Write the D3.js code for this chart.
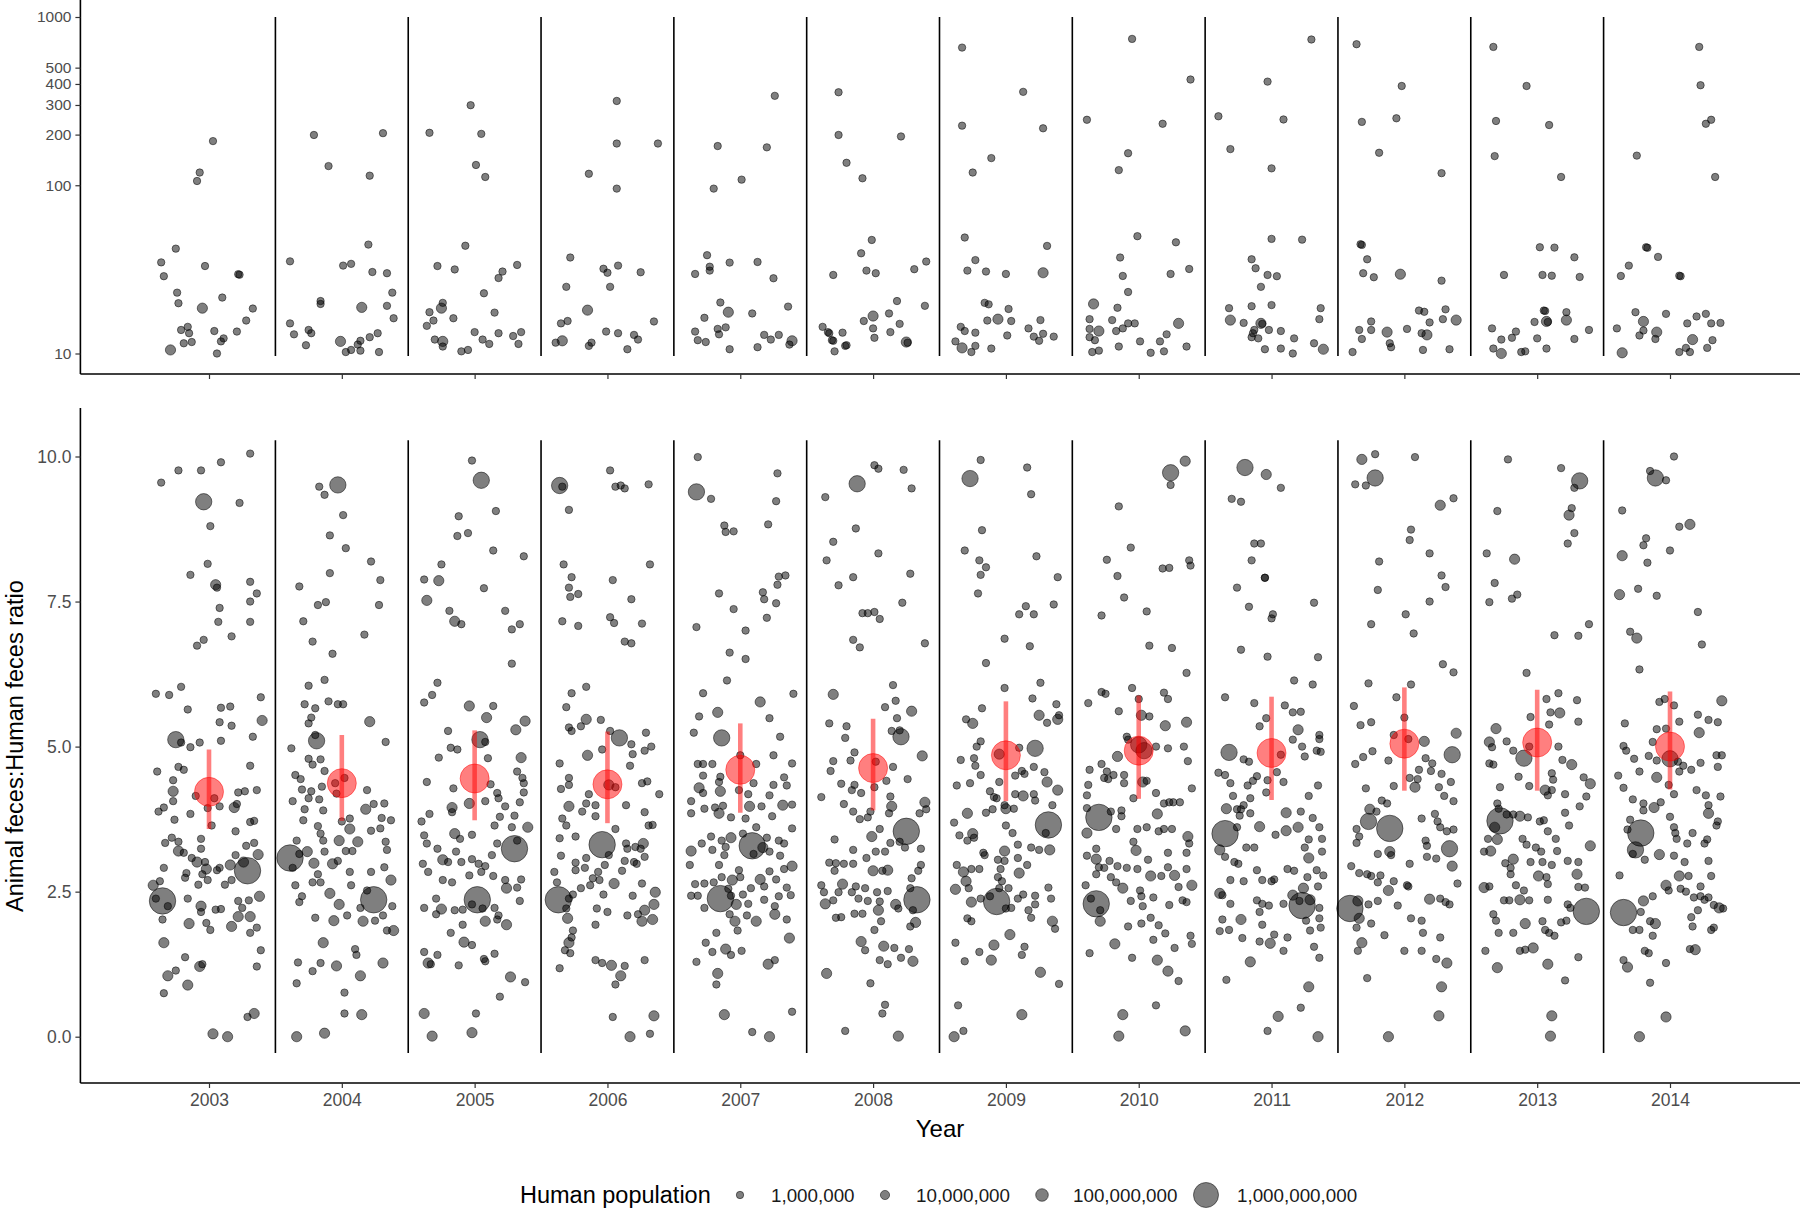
<!DOCTYPE html>
<html><head><meta charset="utf-8">
<script src="https://cdn.jsdelivr.net/npm/d3@7/dist/d3.min.js"></script>
<style>
body{margin:0;background:#fff}
svg{display:block}
text{font-family:"Liberation Sans",Arial,Helvetica,sans-serif}
</style>
</head><body>
<svg id="chart" width="1800" height="1210"></svg>
<script>
// ---------- DATA ----------
const S = 1, M = 20, L = 200, X = 1300; // human population, millions
const years = [2003,2004,2005,2006,2007,2008,2009,2010,2011,2012,2013,2014];
const meanRatio = [4.22,4.37,4.45,4.35,4.6,4.63,4.85,4.93,4.89,5.05,5.07,5.0];
const ciLow  = [3.58,3.72,3.73,3.68,3.86,3.9,4.06,4.1,4.08,4.24,4.24,4.26];
const ciHigh = [4.95,5.2,5.28,5.26,5.4,5.48,5.78,5.88,5.86,6.02,5.98,5.95];
const topTicks = [10,100,200,300,400,500,1000];
const bottomTicks = [0,2.5,5,7.5,10];
const legendPops = [1,10,100,1000];
const legendLabels = ["1,000,000","10,000,000","100,000,000","1,000,000,000"];

// [jitter offset from year, ratio, population (millions)]
const low2003 = [[.31,10.05,S],[-.36,9.55,S],[-.23,9.76,S],[-.06,9.76,S],[.09,9.9,S],[-.04,9.22,L],[.23,9.2,S],[.01,8.8,S],[-.01,8.15,S],[-.14,7.96,S],[.05,7.79,M],[.06,7.74,S],[.31,7.84,S],[.36,7.64,S],[.31,7.5,S],[.08,7.39,S],[.07,7.15,S],[.31,7.15,S],[.17,6.9,S],[-.04,6.84,S],[-.09,6.74,S],
[-.4,5.91,S],[-.3,5.89,S],[-.21,6.03,S],[.39,5.85,S],[-.16,5.64,S],[.09,5.67,S],[.16,5.69,S],[.4,5.45,M],[.08,5.42,S],[.17,5.36,S],[-.25,5.12,L],[-.21,5.07,S],[-.14,4.99,S],[-.07,5.07,S],[.09,5.1,S],[.33,5.17,S],[.31,4.67,S],[-.39,4.57,S],[-.23,4.65,S],[-.19,4.6,S],[-.27,4.42,S],[-.27,4.23,M],[-.27,4.06,S],[-.1,4.15,S],[.04,4.11,S],[.22,4.21,S],[.27,4.23,S],[.36,4.25,S],[.08,3.97,S],[.19,3.95,M],[.21,4.01,S],[-.01,3.94,S],[-.38,3.88,S],[-.34,3.95,S],[-.14,3.84,S],[-.26,3.74,S],[.31,3.7,S],[.34,3.72,S],[.02,3.64,S],[.2,3.54,S],[-.33,3.34,S],[-.28,3.43,S],[-.23,3.36,S],[-.06,3.41,S],[-.23,3.2,M],[-.19,3.17,S],[-.13,3.08,S],[-.06,3.24,S],[-.09,3.01,M],[-.03,3.01,S],[-.02,2.89,M],[-.05,2.8,S],[-.17,2.82,S],[-.34,2.91,S],[-.42,2.61,M],[-.37,2.68,S],[-.35,2.34,X],[-.4,2.38,S],[-.31,2.25,S],[.06,2.87,S],[.08,2.91,S],[.16,2.96,M],[.2,3.13,S],[.26,3.01,M],[.29,2.86,X],[.28,3.29,S],[.34,3.34,S],[.37,3.14,M],[-.18,2.74,S],[-.08,2.62,S],[-.01,2.7,S],[.12,2.62,S],[.17,2.7,S],[-.16,2.38,S],[-.06,2.25,M],[-.06,2.15,S],[.05,2.19,S],[.09,2.2,S],[.22,2.34,S],[.25,2.22,S],[.3,2.35,S],[.38,2.42,M],[.31,2.07,M],[.22,2.07,M],[.17,1.9,M],[-.35,2.02,S],[-.15,1.95,M],[-.02,1.96,S],[.01,1.84,S],[.31,1.79,S],[.36,1.88,S],[-.34,1.62,M],[-.18,1.37,S],[-.07,1.21,M],[-.05,1.25,S],[-.25,1.14,S],[-.31,1.05,M],[-.16,.89,M],[.39,1.49,S],[.36,1.21,S],[-.34,.75,S],[.34,.4,M],[.29,.34,S],[.03,.05,M],[.14,0,M]];

const low2004 = [[-.03,9.51,L],[-.17,9.48,S],[-.13,9.34,S],[.01,8.99,S],[-.09,8.64,S],[.03,8.42,S],[.22,8.19,S],[.29,7.87,S],[-.32,7.76,S],[-.09,7.99,S],[-.18,7.44,S],[-.12,7.49,S],[.28,7.44,S],[-.29,7.16,S],[.17,6.93,S],[-.22,6.81,S],[-.07,6.6,S],[-.13,6.15,S],[-.25,6.05,S],[-.1,5.78,S],[-.03,5.73,S],[.01,5.73,S],[-.28,5.73,S],[-.2,5.66,S],[-.23,5.5,S],[-.25,5.4,S],[.21,5.43,M],[-.19,5.1,L],[-.2,5.2,S],[.33,5.08,S],[-.38,4.97,S],[-.25,4.79,S],[-.22,4.69,S],[-.16,4.78,S],[-.13,4.58,S],[-.35,4.51,S],[-.31,4.44,S],[-.3,4.26,S],[-.23,4.23,S],[-.15,4.31,S],[-.05,4.37,S],[.02,4.46,S],[-.04,4.19,S],[-.17,4.09,S],[-.25,4.11,S],[.19,4.25,S],[-.37,4.06,S],[-.14,3.9,S],[-.28,3.92,S],[.18,3.92,M],[.24,4.01,S],[.32,4.02,S],[.06,3.76,S],[0,3.71,S],[.3,3.77,S],[.37,3.73,S],[-.29,3.73,S],[-.18,3.63,S],[.06,3.58,M],[.22,3.55,S],[.29,3.59,S],[-.16,3.5,S],[-.14,3.38,S],[-.02,3.38,M],[.12,3.36,M],[.33,3.36,S],[-.34,3.38,S],[-.39,3.08,X],[-.32,3.15,S],[-.26,3.19,M],[-.21,2.99,M],[-.13,3.19,S],[-.07,2.98,M],[-.03,3.03,S],[.03,3.2,S],[.08,3.2,S],[.34,3.22,S],[-.37,2.91,S],[-.18,2.8,S],[.06,2.84,S],[.22,2.84,S],[.32,2.92,S],[-.35,2.61,S],[-.22,2.66,S],[-.16,2.66,S],[-.09,2.47,M],[.07,2.61,S],[.37,2.7,M],[.24,2.36,X],[.19,2.52,S],[-.02,2.28,M],[-.3,2.42,S],[-.32,2.32,S],[-.2,2.05,S],[-.06,2,M],[.04,2.09,S],[.14,2.22,S],[.16,1.99,M],[.25,2,S],[.31,2.09,S],[.38,2.25,S],[.39,1.83,M],[.34,1.83,S],[-.14,1.62,M],[.1,1.51,S],[.11,1.41,S],[-.33,1.28,S],[-.22,1.13,S],[-.16,1.27,S],[-.04,1.22,M],[.14,1.05,M],[.31,1.27,M],[-.34,.92,S],[.02,.76,S],[.02,.4,S],[.15,.38,M],[-.13,.06,M],[-.34,0,M]];

const low2005 = [[-.02,9.93,S],[.05,9.59,L],[.16,9.06,S],[-.12,8.97,S],[-.05,8.68,S],[-.13,8.63,S],[.14,8.38,S],[.37,8.28,S],[-.25,8.14,S],[-.38,7.88,S],[-.27,7.86,M],[.07,7.73,S],[-.36,7.52,M],[-.19,7.34,S],[-.15,7.16,M],[-.1,7.11,S],[.23,7.34,S],[.34,7.11,S],[.28,7.02,S],[.28,6.43,S],[-.28,6.1,S],[-.32,5.89,S],[-.38,5.76,S],[-.04,5.7,M],[.14,5.7,S],[.09,5.5,M],[.38,5.44,M],[.31,5.29,M],[-.2,5.27,S],[.04,5.12,L],[.08,5.08,S],[-.18,4.98,S],[-.13,4.95,S],[.1,4.8,S],[-.27,4.81,S],[.35,4.81,M],[.32,4.57,S],[.36,4.46,S],[.37,4.37,S],[-.36,4.39,S],[-.16,4.28,S],[.12,4.35,S],[.37,4.21,S],[.17,4.2,S],[.18,4.11,S],[.08,4.06,S],[-.04,4.02,M],[-.17,3.95,M],[-.17,3.87,S],[.23,3.97,S],[.34,4.04,S],[.3,3.81,S],[-.34,3.84,S],[.19,3.79,S],[-.4,3.71,S],[.15,3.64,S],[.4,3.61,M],[.28,3.61,S],[-.15,3.5,M],[-.02,3.48,S],[-.38,3.47,S],[-.11,3.41,S],[.3,3.24,X],[.32,3.38,S],[.17,3.33,S],[-.36,3.33,S],[-.28,3.24,S],[-.14,3.19,S],[.13,3.13,S],[-.24,3.05,M],[-.2,3.01,S],[-.1,3.01,S],[-.02,3.06,S],[.03,2.98,S],[.08,2.94,S],[-.39,2.98,S],[-.35,2.84,S],[-.24,2.7,S],[-.17,2.66,S],[-.04,2.78,S],[.05,2.84,S],[.14,2.77,S],[.23,2.7,S],[.24,2.56,M],[.35,2.71,S],[.32,2.57,S],[.02,2.36,X],[-.02,2.28,S],[.06,2.21,S],[.15,2.22,S],[.34,2.34,S],[-.29,2.38,S],[-.38,2.22,S],[-.25,2.2,M],[-.15,2.18,S],[-.09,2.19,S],[.08,1.99,M],[.17,2.02,S],[.24,1.93,M],[.18,2.09,S],[-.29,2.11,S],[-.09,1.93,S],[-.18,1.79,S],[-.08,1.63,M],[-.02,1.58,S],[-.38,1.46,S],[-.35,1.27,M],[-.33,1.25,S],[-.28,1.41,S],[-.12,1.23,S],[.07,1.34,S],[.08,1.3,S],[.15,1.43,S],[.27,1.03,M],[.38,.94,S],[.19,.69,S],[-.38,.4,M],[.01,.4,S],[-.32,.01,M],[-.02,.07,M]];

const low2006 = [[-.36,9.5,L],[-.34,9.48,S],[.02,9.76,S],[.06,9.48,S],[.1,9.5,S],[.13,9.45,S],[.31,9.52,S],[-.29,9.08,S],[-.33,8.14,S],[-.27,7.92,S],[-.29,7.74,S],[-.28,7.58,S],[-.22,7.63,S],[.04,7.87,S],[.18,7.54,S],[.32,8.14,S],[-.34,7.16,S],[-.22,7.08,S],[.02,7.23,S],[.05,7.13,S],[.26,7.12,S],[.13,6.81,S],[.18,6.78,S],[-.27,5.92,S],[-.16,6.03,S],[-.31,5.68,S],[-.16,5.47,M],[-.2,5.35,S],[-.05,5.46,S],[-.29,5.33,S],[-.27,5.27,S],[.02,5.27,S],[.09,5.15,L],[.29,5.24,S],[-.15,4.85,M],[-.04,4.95,S],[.18,5.04,S],[.19,4.87,S],[.28,4.93,S],[.33,5,S],[-.36,4.71,S],[.17,4.67,S],[-.29,4.46,S],[-.29,4.34,S],[-.35,4.27,S],[-.14,4.18,S],[.01,4.34,M],[.06,4.3,S],[.26,4.37,S],[.3,4.4,S],[.39,4.18,S],[-.29,3.97,M],[-.16,4.02,S],[-.19,3.88,S],[-.09,3.99,S],[-.09,3.8,S],[.14,3.99,S],[-.34,3.76,S],[-.31,3.64,S],[.28,3.87,S],[.31,3.64,S],[.34,3.65,S],[.06,3.58,S],[-.36,3.42,S],[-.24,3.45,S],[-.04,3.31,X],[.14,3.33,S],[.15,3.24,S],[.21,3.27,S],[.27,3.33,M],[.25,3.24,S],[-.35,3.12,S],[-.16,3.08,S],[.01,3.13,S],[.13,3.03,S],[.2,3.01,S],[.28,3.1,S],[-.24,3,S],[-.4,2.84,S],[-.24,2.87,S],[-.17,2.91,S],[-.07,2.84,S],[-.02,2.96,S],[.11,2.86,S],[.22,2.98,S],[-.11,2.73,S],[-.06,2.7,S],[-.38,2.66,S],[-.2,2.56,S],[-.13,2.61,S],[.05,2.64,M],[.26,2.64,S],[-.37,2.36,X],[-.29,2.38,S],[-.26,2.45,S],[-.03,2.45,S],[.19,2.43,S],[.36,2.49,M],[.35,2.28,M],[-.31,2.21,S],[-.08,2.21,S],[0,2.15,S],[.28,2.18,M],[.26,1.99,M],[.34,2.02,M],[-.3,2.04,M],[.15,2.09,S],[.23,2.11,S],[-.09,1.93,S],[-.26,1.83,S],[-.27,1.71,S],[-.29,1.62,M],[-.32,1.49,S],[-.28,1.44,S],[-.36,1.18,S],[-.09,1.32,S],[-.04,1.27,S],[.03,1.23,M],[.13,1.22,S],[.1,1.05,M],[.06,.9,S],[.28,1.32,S],[.04,.34,S],[.35,.36,M],[.32,.05,S],[.17,0,M]];

const low2007 = [[-.32,9.99,S],[-.33,9.39,L],[-.22,9.27,S],[.28,9.71,S],[.27,9.23,S],[-.12,8.81,S],[-.11,8.7,S],[-.05,8.71,S],[.21,8.83,S],[.29,7.93,S],[.34,7.95,S],[.28,7.79,S],[.17,7.66,S],[.18,7.54,S],[.27,7.47,S],[-.16,7.64,S],[-.05,7.37,S],[.2,7.22,S],[-.33,7.06,S],[.04,7,S],[-.08,6.62,S],[.04,6.51,S],[-.1,6.14,S],[-.28,5.92,S],[.15,5.77,M],[.4,5.91,S],[-.31,5.52,S],[-.17,5.59,M],[.22,5.49,S],[-.35,5.24,S],[-.14,5.15,L],[.3,5.17,S],[-.32,4.7,S],[-.28,4.7,S],[-.21,4.7,S],[0,4.85,S],[.12,4.7,S],[.25,4.85,S],[.39,4.71,S],[-.28,4.5,S],[-.15,4.48,S],[-.16,4.39,S],[.1,4.37,S],[.33,4.47,S],[.35,4.33,S],[.25,4.34,S],[-.31,4.29,M],[-.28,4.2,S],[-.15,4.23,M],[-.01,4.25,S],[.06,4.18,S],[.22,4.16,S],[-.37,4.06,S],[-.27,3.93,S],[-.19,3.95,S],[-.13,3.98,S],[.07,3.97,M],[.16,3.97,S],[.32,3.99,M],[.39,4,S],[-.37,3.85,S],[-.16,3.85,M],[-.07,3.78,S],[.04,3.76,S],[.24,3.8,S],[.39,3.59,S],[.12,3.61,S],[.02,3.5,S],[-.22,3.45,S],[-.29,3.33,S],[-.14,3.38,S],[-.07,3.43,M],[-.11,3.27,S],[.09,3.29,X],[.2,3.43,S],[.29,3.38,S],[.33,3.33,S],[.17,3.26,M],[-.37,3.2,M],[-.21,3.22,S],[-.12,3.13,S],[.1,3.15,S],[.22,3.19,S],[.3,3.12,S],[-.38,2.96,S],[-.16,2.96,S],[.39,2.94,M],[.33,2.89,S],[-.01,2.87,S],[.22,2.85,S],[-.14,2.75,S],[-.06,2.7,M],[0,2.75,S],[.15,2.71,M],[.27,2.71,S],[-.34,2.63,S],[-.27,2.64,S],[-.2,2.66,S],[-.09,2.55,S],[.08,2.56,S],[.18,2.59,S],[.35,2.57,S],[-.37,2.43,S],[-.32,2.43,S],[-.15,2.38,X],[-.07,2.43,S],[.02,2.45,S],[.18,2.36,S],[.29,2.42,S],[.38,2.44,S],[-.27,2.22,S],[-.03,2.28,M],[.06,2.29,S],[.26,2.25,S],[-.08,2.11,S],[.05,2.09,S],[.12,1.99,M],[.26,2.11,M],[.35,2.02,S],[-.04,1.99,M],[-.18,1.79,S],[-.02,1.83,S],[-.26,1.62,S],[-.11,1.51,M],[-.21,1.46,S],[-.07,1.41,S],[.01,1.48,S],[.37,1.7,M],[-.33,1.29,S],[.21,1.25,M],[.26,1.32,S],[-.17,1.09,M],[-.18,.9,S],[-.12,.38,M],[.39,.43,S],[.09,.08,S],[.22,0,M]];

const low2008 = [[.01,9.85,S],[.04,9.79,S],[-.12,9.53,L],[.23,9.77,S],[.29,9.45,S],[-.36,9.3,S],[-.13,8.76,S],[-.3,8.53,S],[.04,8.33,S],[-.35,8.21,S],[-.15,7.92,S],[.28,7.98,S],[-.26,7.78,S],[.22,7.48,S],[-.08,7.3,S],[-.04,7.3,S],[.01,7.32,S],[.05,7.2,S],[-.15,6.84,S],[-.1,6.71,S],[.39,6.78,S],[.15,6.06,S],[-.3,5.9,M],[.17,5.79,S],[.09,5.68,S],[.29,5.61,M],[.18,5.49,S],[-.33,5.4,S],[-.2,5.35,S],[-.21,5.15,S],[.14,5.27,S],[.21,5.17,L],[.2,5.28,S],[-.14,4.9,S],[.37,4.84,M],[-.3,4.75,S],[-.17,4.76,S],[.02,4.74,S],[-.32,4.58,S],[.15,4.65,S],[.26,4.44,S],[-.24,4.36,S],[-.14,4.34,S],[.1,4.41,S],[-.16,4.25,S],[-.09,4.2,S],[.01,4.3,S],[-.39,4.13,S],[-.22,4.01,S],[.13,4.14,S],[.39,4.04,M],[.14,3.97,M],[.4,3.92,S],[-.15,3.88,S],[-.02,3.88,S],[.12,3.85,S],[.35,3.85,S],[-.1,3.75,S],[-.04,3.78,S],[.25,3.54,X],[-.01,3.45,M],[.05,3.58,S],[-.29,3.4,S],[.13,3.34,S],[.2,3.36,S],[.24,3.26,S],[.36,3.24,S],[-.15,3.22,S],[.02,3.19,S],[.09,3.19,S],[-.33,3,S],[-.28,2.99,S],[-.22,2.98,S],[-.15,2.98,S],[-.05,3.08,S],[0,2.86,M],[.07,2.86,S],[.11,2.87,M],[.29,2.73,S],[.36,2.96,S],[-.29,2.86,S],[.34,2.86,S],[-.39,2.61,S],[-.23,2.63,M],[-.13,2.59,S],[-.06,2.56,S],[.03,2.49,S],[.11,2.51,S],[.28,2.56,S],[-.37,2.49,S],[-.36,2.29,M],[-.3,2.35,S],[-.26,2.49,S],[-.16,2.49,S],[-.11,2.38,S],[-.04,2.34,S],[.05,2.33,S],[.17,2.28,M],[.33,2.36,X],[.3,2.18,S],[.19,2.21,S],[.04,2.18,M],[-.14,2.12,S],[-.08,2.12,S],[-.28,2.05,S],[-.24,2.06,S],[.32,1.97,M],[.28,1.9,S],[.06,1.99,S],[.01,1.84,S],[-.09,1.64,M],[-.06,1.49,S],[.08,1.56,M],[.16,1.53,S],[.27,1.51,S],[.05,1.32,S],[.11,1.25,S],[.21,1.36,S],[.3,1.3,M],[-.35,1.09,M],[-.02,.92,S],[.09,.55,S],[.07,.4,S],[-.21,.1,S],[.19,.01,M]];

const low2009 = [[-.19,9.94,S],[-.27,9.62,L],[.16,9.81,S],[.19,9.35,S],[-.18,8.73,S],[-.31,8.38,S],[.23,8.28,S],[-.2,8.21,S],[-.15,8.09,S],[-.19,7.96,S],[.39,7.92,S],[-.21,7.64,S],[.36,7.45,S],[.15,7.42,S],[.1,7.28,S],[.21,7.28,S],[-.01,6.86,S],[.18,6.73,S],[-.15,6.44,S],[-.01,6.01,S],[.26,6.1,S],[.2,5.83,S],[.38,5.73,S],[-.18,5.66,S],[-.3,5.47,S],[-.25,5.4,M],[.25,5.54,M],[.31,5.41,S],[.39,5.47,M],[.4,5.54,S],[-.19,5.09,S],[-.22,5,S],[.22,4.97,L],[.1,4.98,S],[-.34,4.77,S],[-.24,4.8,S],[-.05,4.87,M],[-.23,4.67,S],[-.19,4.51,S],[.07,4.5,S],[.12,4.58,S],[.14,4.53,S],[.21,4.65,S],[.29,4.56,S],[-.27,4.37,S],[-.37,4.33,S],[-.05,4.39,S],[.31,4.39,M],[.39,4.25,M],[-.12,4.23,S],[-.09,4.13,S],[.07,4.18,S],[.13,4.15,M],[.21,4.18,S],[.22,4.07,S],[-.07,4.11,S],[-.01,3.99,S],[0,3.93,M],[.06,3.93,S],[-.1,3.92,S],[.35,3.99,S],[-.29,3.85,M],[-.15,3.86,S],[-.39,3.69,S],[.32,3.65,X],[0,3.64,S],[.3,3.51,S],[-.35,3.47,S],[-.25,3.5,M],[-.24,3.43,S],[.05,3.51,S],[-.29,3.38,S],[.09,3.31,S],[.19,3.26,S],[.25,3.22,S],[.33,3.22,M],[-.01,3.2,M],[-.17,3.17,S],[-.16,3.13,S],[.09,3.08,S],[-.06,3.05,S],[-.01,3.03,S],[-.37,2.96,S],[-.32,2.84,M],[-.26,2.89,S],[-.2,2.89,S],[-.04,2.89,S],[.16,2.96,S],[.1,2.82,M],[-.3,2.68,M],[-.06,2.75,S],[-.03,2.68,S],[-.38,2.54,M],[-.28,2.56,S],[-.05,2.56,S],[.02,2.56,S],[.32,2.57,S],[.34,2.38,S],[-.07,2.33,X],[-.26,2.32,M],[-.19,2.38,S],[-.12,2.42,S],[.04,2.22,S],[.09,2.38,S],[.13,2.45,S],[.22,2.43,S],[.22,2.28,S],[0,2.21,S],[.17,2.18,S],[-.29,2.04,S],[-.26,1.99,S],[.19,2.05,S],[.35,1.99,M],[.37,1.86,S],[.03,1.76,M],[-.38,1.62,S],[-.09,1.58,M],[-.2,1.46,S],[.14,1.55,S],[.12,1.41,S],[-.31,1.3,S],[-.11,1.32,M],[.26,1.11,M],[.4,.91,S],[-.36,.54,S],[.12,.38,M],[-.32,.1,S],[-.39,0,M]];

const low2010 = [[.35,9.92,M],[.24,9.72,L],[.24,9.51,S],[-.15,9.14,S],[-.06,8.43,S],[-.24,8.22,S],[-.16,7.94,S],[.38,8.21,S],[.39,8.12,S],[.18,8.07,S],[.23,8.08,S],[-.11,7.57,S],[-.28,7.26,S],[.06,7.33,S],[.08,6.74,S],[.25,6.7,S],[.36,6.27,S],[-.05,6.01,S],[-.28,5.94,S],[-.25,5.91,S],[-.38,5.75,S],[.19,5.93,S],[.22,5.82,S],[-.15,5.61,S],[0,5.82,S],[.02,5.54,M],[.08,5.52,S],[.2,5.36,M],[.36,5.42,M],[-.09,5.17,S],[-.08,5.12,S],[0,5.03,L],[.04,4.93,L],[.13,5,S],[.22,4.97,S],[.34,5,S],[-.16,4.83,M],[-.28,4.7,S],[.37,4.75,S],[-.37,4.6,S],[-.24,4.57,S],[-.19,4.51,S],[-.26,4.46,S],[-.11,4.51,S],[-.11,4.37,S],[.03,4.39,M],[.06,4.41,S],[-.38,4.34,S],[-.23,4.44,S],[-.39,4.16,S],[-.04,4.11,S],[.13,4.2,S],[.4,4.28,S],[.23,4.04,S],[.19,4.02,S],[.26,4.04,S],[.31,4.04,S],[-.39,3.94,S],[-.3,3.78,X],[-.21,3.88,S],[-.13,3.9,S],[-.13,3.8,S],[.14,3.84,M],[-.39,3.51,M],[-.17,3.58,S],[-.01,3.58,S],[.06,3.61,S],[.15,3.54,S],[.19,3.58,S],[.25,3.58,S],[.37,3.45,M],[.38,3.33,S],[-.04,3.36,S],[-.02,3.21,M],[-.32,3.24,S],[-.39,3.12,S],[-.32,3.06,M],[-.22,3.03,S],[.07,3.05,S],[.22,3.17,S],[.36,3.17,S],[-.3,2.92,S],[-.26,2.91,S],[-.16,2.94,S],[-.09,2.91,S],[-.01,2.89,S],[.22,2.92,S],[.36,2.89,S],[.09,2.77,M],[-.32,2.8,S],[-.21,2.75,S],[.17,2.77,S],[.27,2.78,M],[-.4,2.61,S],[-.17,2.66,S],[-.12,2.56,M],[.01,2.52,S],[.3,2.58,S],[.4,2.61,M],[-.32,2.29,X],[-.36,2.38,S],[-.29,2.18,S],[-.29,1.99,M],[-.06,2.34,S],[.02,2.42,S],[.03,2.25,S],[.11,2.4,S],[.23,2.27,S],[.33,2.35,S],[.36,2.32,S],[-.08,1.9,S],[.02,1.95,S],[.09,2.05,S],[.15,1.92,S],[.2,1.78,S],[.39,1.74,S],[.4,1.6,S],[.11,1.67,S],[.27,1.53,S],[-.18,1.6,M],[-.37,1.44,S],[-.05,1.36,S],[.14,1.32,M],[.22,1.13,M],[.3,.96,S],[.13,.54,S],[-.12,.38,M],[-.15,.01,M],[.35,.1,M]];

const low2011 = [[-.2,9.81,L],[-.04,9.69,M],[.07,9.46,S],[-.3,9.27,S],[-.23,9.22,S],[-.13,8.5,S],[-.08,8.5,S],[-.15,8.21,S],[-.05,7.91,S],[-.05,7.91,S],[-.26,7.74,S],[-.17,7.41,S],[.01,7.28,S],[0,7.21,S],[.32,7.48,S],[-.23,6.67,S],[-.03,6.55,S],[.35,6.54,S],[.17,6.14,S],[.31,6.07,S],[-.35,5.85,S],[-.13,5.75,S],[.1,5.71,S],[.16,5.59,S],[.22,5.6,S],[-.04,5.49,S],[-.09,5.35,S],[.2,5.29,M],[.36,5.2,S],[.36,5.13,S],[.16,5.12,S],[.23,5,S],[.34,4.93,S],[.37,4.91,S],[-.32,4.9,L],[-.21,4.78,S],[-.17,4.74,S],[.07,4.86,S],[.25,4.83,S],[.04,4.56,S],[-.4,4.55,S],[-.35,4.51,S],[-.31,4.37,S],[-.18,4.33,S],[-.14,4.41,S],[-.11,4.49,S],[-.03,4.42,S],[.09,4.39,S],[.35,4.33,S],[-.04,4.21,S],[-.29,4.15,S],[-.16,4.11,S],[.28,4.15,S],[-.34,3.93,M],[-.26,3.92,S],[-.23,3.92,S],[-.21,3.99,S],[-.16,3.85,S],[.11,3.86,M],[.22,3.88,S],[.31,3.77,S],[-.24,3.81,S],[-.35,3.5,X],[-.26,3.61,S],[-.09,3.62,M],[.03,3.48,S],[.11,3.55,M],[.2,3.61,M],[.36,3.61,S],[.38,3.41,S],[.28,3.4,S],[.25,3.26,S],[-.13,3.26,S],[-.19,3.26,S],[-.39,3.22,M],[-.35,3.1,S],[-.28,3.01,S],[-.25,2.98,S],[.28,3.08,M],[.38,3.19,S],[-.11,2.87,S],[.12,2.89,S],[.17,2.86,S],[-.31,2.7,S],[-.21,2.68,S],[-.07,2.7,S],[0,2.68,S],[.02,2.71,S],[.27,2.75,S],[.34,2.87,S],[.39,2.78,S],[.35,2.59,S],[.24,2.56,M],[.16,2.44,M],[-.39,2.47,M],[-.37,2.44,S],[-.31,2.29,S],[-.11,2.35,S],[-.07,2.29,S],[-.02,2.26,S],[.09,2.29,S],[.21,2.34,S],[.23,2.26,X],[.29,2.36,M],[.36,2.22,S],[-.09,2.15,S],[-.23,2.02,M],[-.37,2.02,S],[-.07,1.93,S],[.26,2,S],[.36,2.04,S],[.29,1.83,S],[.37,1.88,S],[-.39,1.82,S],[-.32,1.84,S],[.02,1.76,S],[.12,1.71,S],[-.22,1.7,S],[-.09,1.64,S],[-.01,1.61,M],[.09,1.48,S],[.32,1.55,S],[.36,1.36,S],[-.16,1.29,M],[-.34,.98,S],[.28,.86,M],[.22,.5,S],[.05,.35,M],[-.03,.1,S],[.35,0,M]];

const low2012 = [[-.32,9.95,M],[-.22,10.04,S],[-.22,9.63,L],[-.37,9.52,S],[-.29,9.5,S],[.08,9.99,S],[.27,9.16,M],[.37,9.28,S],[.05,8.74,S],[.04,8.56,S],[-.19,8.19,S],[.19,8.33,S],[.28,7.95,S],[.31,7.75,S],[-.2,7.7,S],[.19,7.5,S],[.01,7.28,S],[-.25,7.11,S],[.07,6.95,S],[.29,6.42,S],[.37,6.28,S],[-.27,6.09,S],[.05,6.07,S],[-.38,5.7,S],[-.06,5.85,S],[0,5.5,S],[-.33,5.37,S],[-.25,5.42,S],[.39,5.23,M],[-.08,5.2,S],[.03,5.13,S],[.15,5.09,M],[.36,4.86,L],[-.24,4.92,S],[-.31,4.82,S],[-.37,4.7,S],[-.12,4.76,S],[.16,4.8,S],[.21,4.71,S],[.28,4.53,S],[.11,4.6,S],[.2,4.58,S],[.35,4.39,S],[-.29,4.28,S],[-.08,4.32,S],[.08,4.3,M],[.26,4.3,S],[.04,4.46,S],[.1,4.44,S],[.3,4.15,S],[.37,4.06,S],[-.17,4.07,S],[-.26,3.92,M],[-.27,3.71,L],[-.11,3.59,X],[-.13,4.02,S],[-.21,3.88,S],[.13,3.76,S],[.23,3.84,S],[.25,3.71,S],[.27,3.61,S],[.32,3.54,S],[.37,3.57,S],[-.36,3.58,S],[-.34,3.45,S],[-.36,3.34,S],[.16,3.38,S],[.17,3.29,S],[.34,3.24,L],[-.2,3.15,S],[-.11,3.19,M],[-.1,3.13,S],[.04,2.98,S],[.17,3.1,S],[.24,3.07,S],[.36,2.94,M],[-.4,2.94,S],[-.28,2.8,S],[-.34,2.82,S],[-.25,2.77,S],[-.18,2.78,S],[-.12,2.52,M],[-.2,2.66,S],[-.08,2.68,S],[.03,2.59,S],[.02,2.61,S],[.4,2.64,S],[-.41,2.21,X],[-.35,2.34,M],[-.27,2.28,S],[-.2,2.34,S],[-.05,2.26,S],[.19,2.37,M],[.27,2.38,S],[.31,2.32,S],[.34,2.28,S],[-.34,2.04,M],[-.36,1.88,S],[-.25,1.95,S],[.05,2.04,S],[.13,2,S],[.14,1.79,S],[-.15,1.75,S],[.27,1.71,S],[-.32,1.62,M],[-.35,1.48,S],[0,1.48,S],[.13,1.48,S],[.24,1.34,S],[.32,1.27,M],[-.28,1.01,S],[.28,.86,M],[.26,.36,M],[-.12,0,M]];

const low2013 = [[-.22,9.95,S],[.18,9.8,S],[.32,9.58,L],[.28,9.46,S],[.26,9.11,S],[.24,8.99,M],[-.3,9.06,S],[.28,8.68,S],[.23,8.5,S],[-.38,8.33,S],[-.17,8.23,M],[-.32,7.82,S],[-.36,7.49,S],[-.19,7.55,S],[-.15,7.62,S],[.39,7.11,S],[.13,6.92,S],[.31,6.91,S],[-.08,6.27,S],[.07,5.82,S],[.16,5.92,S],[.3,5.8,S],[.1,5.59,S],[.17,5.58,M],[-.05,5.51,S],[-.31,5.31,M],[.09,5.38,S],[.31,5.43,S],[-.36,5.08,M],[-.34,4.99,S],[-.23,5.09,S],[-.18,4.93,S],[-.1,4.8,L],[-.06,5,S],[.16,5,S],[.19,4.77,S],[.26,4.69,M],[-.36,4.71,S],[-.33,4.69,S],[.11,4.54,S],[.35,4.47,S],[.4,4.36,M],[.12,4.43,S],[-.14,4.48,S],[-.06,4.32,S],[-.28,4.3,S],[.06,4.25,M],[.11,4.25,S],[.21,4.18,S],[.37,4.14,S],[.08,4.16,S],[-.3,4.02,S],[-.29,3.93,S],[.32,3.97,S],[-.28,3.72,X],[-.32,3.61,M],[-.35,3.2,M],[-.37,3.41,S],[-.23,3.83,S],[-.18,3.83,S],[-.13,3.8,M],[-.07,3.78,S],[.02,3.71,S],[.05,3.73,S],[.21,3.86,S],[.24,3.64,S],[.08,3.54,S],[.14,3.41,S],[-.3,3.4,M],[-.11,3.41,S],[-.08,3.31,S],[-.01,3.26,S],[.03,3.19,S],[.15,3.2,S],[.4,3.29,M],[-.4,3.19,S],[-.24,2.99,S],[-.2,2.91,S],[-.2,2.8,S],[-.18,3.06,M],[-.05,3.01,S],[.04,3.01,S],[.11,2.96,S],[.23,3.03,S],[.31,3.01,S],[.3,2.8,M],[-.4,2.57,M],[-.36,2.59,S],[-.16,2.61,S],[-.1,2.52,S],[.01,2.77,M],[.07,2.75,S],[.08,2.63,S],[.31,2.58,S],[.36,2.57,S],[-.25,2.35,S],[-.21,2.35,S],[-.13,2.36,M],[-.06,2.35,S],[.08,2.36,S],[.23,2.28,S],[.25,2.22,S],[.37,2.16,X],[-.33,2.11,S],[-.31,2,S],[-.09,1.95,M],[.04,1.99,S],[.06,1.84,S],[.09,1.79,S],[.13,1.74,S],[.18,1.97,S],[.22,2,S],[-.18,1.79,S],[-.29,1.79,S],[-.39,1.48,S],[-.13,1.48,S],[-.09,1.5,S],[-.03,1.53,M],[-.3,1.19,M],[.08,1.25,M],[.31,1.37,S],[.21,.97,S],[.11,.36,M],[.1,.01,M]];

const low2014 = [[.03,10,S],[-.15,9.75,S],[-.11,9.63,L],[-.03,9.59,S],[-.36,9.07,S],[.15,8.83,M],[.07,8.79,S],[-.18,8.59,S],[-.2,8.47,S],[0,8.38,S],[-.36,8.29,M],[-.17,8.17,S],[-.38,7.62,M],[-.24,7.72,S],[-.1,7.6,S],[.21,7.32,S],[-.3,6.98,S],[-.25,6.87,M],[.24,6.76,S],[-.23,6.33,S],[.39,5.79,M],[-.08,5.77,S],[-.04,5.82,S],[.03,5.71,S],[.21,5.55,S],[.29,5.46,S],[.36,5.42,S],[-.34,5.4,S],[.07,5.43,S],[-.1,5.3,S],[-.03,5.31,S],[.22,5.24,M],[-.13,5.08,S],[-.35,5.01,S],[-.33,4.93,S],[-.27,4.79,S],[-.16,4.84,S],[-.1,4.76,S],[0,4.79,L],[.06,4.74,S],[.1,4.67,S],[.23,4.72,S],[.35,4.85,S],[.39,4.85,S],[.36,4.65,S],[-.39,4.5,S],[-.23,4.57,S],[-.1,4.47,M],[-.01,4.34,S],[.07,4.57,S],[.16,4.6,S],[-.35,4.29,S],[.03,4.18,S],[-.28,4.09,S],[-.2,4.02,S],[-.07,4.04,S],[.2,4.25,S],[.27,4.16,S],[.38,4.14,S],[-.2,3.9,S],[-.12,3.95,M],[.29,3.99,S],[.29,3.85,M],[0,3.79,S],[-.3,3.74,S],[.36,3.71,S],[-.22,3.51,X],[-.32,3.57,S],[.03,3.61,S],[.04,3.51,S],[.17,3.51,S],[.28,3.4,S],[.26,3.33,S],[.35,3.64,S],[.05,3.41,S],[.13,3.33,S],[-.26,3.22,L],[-.28,3.15,S],[-.08,3.14,M],[.03,3.12,S],[.11,3.01,S],[-.19,3.05,S],[.29,3.03,S],[-.38,2.78,S],[-.03,2.61,M],[.07,2.77,M],[.14,2.77,S],[.23,2.59,S],[.31,2.77,S],[-.01,2.52,S],[.08,2.55,S],[.12,2.5,S],[.18,2.4,S],[.23,2.42,S],[.26,2.36,S],[.29,2.4,S],[.37,2.22,M],[.4,2.21,S],[.33,2.27,S],[-.35,2.14,X],[-.2,2.34,M],[-.13,2.42,S],[-.22,2.15,S],[-.11,1.95,M],[-.15,1.99,S],[-.28,1.84,S],[-.23,1.84,S],[-.13,1.74,S],[.17,1.9,S],[.16,2.06,S],[.21,2.18,S],[.33,1.88,S],[.31,1.84,S],[-.19,1.48,S],[-.16,1.44,S],[.15,1.51,S],[.19,1.5,M],[-.35,1.32,S],[-.32,1.2,M],[-.03,1.27,S],[-.15,.93,S],[-.03,.34,M],[-.23,0,M]];

// upper panel (ratio >= 10, log scale)
const high2003 = [[.03,183,S],[-.07,119,S],[-.09,106,S],[-.25,42,S],[-.36,34.8,S],[-.34,28.8,S],[-.03,33.1,S],[.22,29.6,S],[.23,29.4,S],[-.24,23,S],[-.23,19.9,S],[.1,21.5,S],[-.05,18.6,M],[.33,18.5,S],[.28,15.7,S],[-.21,13.8,S],[-.16,14.4,S],[-.15,13.2,S],[.04,13.6,S],[.21,13.5,S],[-.19,11.5,S],[-.13,11.7,S],[.11,12.3,S],[.09,11.8,S],[-.29,10.5,M],[.06,10,S]];
const high2004 = [[-.21,199,S],[.31,204,S],[-.1,130,S],[.21,114,S],[.2,44.4,S],[-.39,35.3,S],[.01,33.3,S],[.07,34.1,S],[.23,30.5,S],[.34,30,S],[.38,23,S],[-.16,20.5,S],[-.16,19.7,S],[.15,18.8,M],[.34,19.2,S],[.39,16.2,S],[-.39,15.1,S],[-.25,13.8,S],[-.23,13.2,S],[-.36,13,S],[.27,13.2,S],[.21,12.5,S],[-.27,11.2,S],[-.01,11.8,M],[.14,11.9,S],[.12,11.3,S],[.07,10.5,S],[.03,10.2,S],[.14,10.4,S],[.28,10.2,S]];
const high2005 = [[-.03,299,S],[-.34,205,S],[.05,202,S],[.01,132,S],[.08,112,S],[-.07,43.7,S],[-.28,33.1,S],[-.15,31.6,S],[.32,33.6,S],[.21,30.7,S],[.18,28.1,S],[.07,22.8,S],[-.24,20,S],[-.25,18.6,M],[-.34,17.6,S],[.15,17.5,S],[-.31,15.7,S],[-.16,16.2,S],[-.36,14.6,S],[0,13.4,S],[.18,13.2,S],[.35,13.4,S],[.29,12.7,S],[-.3,12.1,S],[.06,12.1,S],[-.24,11.8,M],[-.24,11,S],[.11,11.4,S],[.33,11.4,S],[-.1,10.3,S],[-.05,10.5,S]];
const high2006 = [[.07,317,S],[.07,177,S],[.38,177,S],[-.14,117,S],[.07,95.5,S],[-.28,37.2,S],[-.03,31.9,S],[.08,33.3,S],[0,30.2,S],[.25,30.4,S],[-.31,24.9,S],[.02,24.9,S],[-.15,18.1,M],[.35,15.5,S],[-.3,15.6,S],[-.35,15.1,S],[-.01,13.5,S],[.08,13.2,S],[.2,12.9,S],[.23,12.1,S],[-.34,11.9,M],[-.39,11.6,S],[-.12,11.6,S],[-.14,11.1,S],[.15,10.6,S]];
const high2007 = [[.26,340,S],[-.17,171,S],[.2,168,S],[.01,108,S],[-.2,95.5,S],[-.25,38.4,S],[-.23,32.8,S],[-.08,34.7,S],[.13,35,S],[.25,28,S],[-.34,29.7,S],[-.23,31.1,S],[-.15,20.1,S],[-.09,17.6,M],[.09,17.3,S],[.36,19,S],[-.27,16.3,S],[-.34,13.5,S],[-.17,14,S],[-.11,14.3,S],[-.32,12,S],[-.26,11.7,S],[-.16,13,S],[-.08,10.6,S],[.13,10.9,S],[.18,12.9,S],[.23,12.1,S],[.29,12.9,S],[.39,11.9,M],[.37,11.3,S]];
const high2008 = [[-.26,357,S],[-.26,199,S],[.21,195,S],[-.2,136,S],[-.08,110,S],[-.01,47.3,S],[-.09,39.4,S],[.4,35.2,S],[-.3,29.3,S],[-.05,31.1,S],[.02,30,S],[.31,31.7,S],[.39,19.2,S],[.18,20.5,S],[0,16.7,M],[-.07,15.6,S],[.12,17.3,S],[.2,15,S],[-.38,14.4,S],[-.34,13.4,S],[-.33,13.2,S],[-.23,13.3,S],[0,14.1,S],[.13,13.4,S],[.01,12.4,S],[-.31,12,S],[-.3,11.9,S],[-.2,11.2,S],[-.21,11.1,S],[-.29,10.3,S],[.25,11.7,M],[.26,11.6,S]];
const high2009 = [[-.33,658,S],[.13,359,S],[-.33,226,S],[.28,218,S],[-.11,145,S],[-.25,119,S],[-.31,48.9,S],[.31,43.6,S],[-.23,35.9,S],[-.29,31.1,S],[-.15,30.7,S],[0,29.7,S],[.28,30.2,M],[-.16,20,S],[-.13,19.6,S],[.02,18.4,S],[-.06,16,M],[-.14,15.7,S],[.04,15.6,S],[.26,15.8,S],[-.34,14.4,S],[.17,14.1,S],[-.23,13.3,S],[.01,12.8,S],[.21,12.6,S],[.28,13.1,S],[.36,12.6,S],[-.31,13.6,S],[-.38,11.8,S],[-.23,11.1,S],[-.33,10.8,M],[-.11,10.7,S],[.25,11.9,S],[-.26,10.2,S]];
const high2010 = [[-.05,741,S],[.39,425,S],[-.39,245,S],[.18,232,S],[-.08,155,S],[-.15,123,S],[-.01,49.8,S],[.28,45.8,S],[-.14,37.2,S],[-.12,28.9,S],[.24,29.7,S],[.38,31.8,S],[-.08,23.2,S],[-.34,19.7,M],[-.16,18.7,S],[-.37,16,S],[-.2,15.8,S],[-.08,15.1,S],[-.03,15.1,S],[.3,15.1,M],[-.37,14,S],[-.3,13.6,M],[-.17,13.6,S],[-.12,14.1,S],[-.37,12.5,S],[-.33,12,S],[.21,13,S],[-.15,11,S],[-.35,10.2,S],[-.3,10.4,S],[.01,11.8,S],[.09,10.1,S],[.16,11.8,S],[.19,10.3,S],[.36,11,S]];
const high2011 = [[.3,735,S],[-.03,413,S],[-.4,257,S],[.09,246,S],[-.31,164,S],[0,126,S],[0,48,S],[.23,47.5,S],[-.15,36.3,S],[-.12,32.1,S],[-.03,29.3,S],[.04,28.8,S],[-.08,24.9,S],[-.15,19.1,S],[-.32,18.6,S],[0,19.4,S],[.37,18.6,S],[.36,16,S],[-.31,15.8,M],[-.21,15.2,S],[-.08,15.1,M],[-.07,15,S],[-.13,13.8,S],[-.14,13.2,S],[-.02,13.8,S],[.07,13.6,S],[-.15,12.5,S],[-.1,12.3,S],[.07,10.7,S],[-.05,10.6,S],[.17,12.3,S],[.16,10,S],[.32,11.5,S],[.39,10.6,M]];
const high2012 = [[-.36,689,S],[-.02,389,S],[-.32,238,S],[-.06,250,S],[-.19,156,S],[.28,118,S],[-.33,44.6,S],[-.32,44.2,S],[-.28,36.3,S],[-.31,30,S],[-.23,28.4,S],[-.03,29.6,M],[.28,27.1,S],[.11,18,S],[.15,17.7,S],[.31,18.3,S],[-.25,15.5,S],[.19,15.3,S],[.29,16,S],[.39,15.8,M],[-.34,13.8,S],[-.25,13.8,S],[-.13,13.4,M],[.02,14,S],[.13,13.2,S],[.17,12.9,M],[-.32,12.2,S],[-.11,11.5,S],[-.1,10.9,S],[-.39,10.2,S],[.14,10.5,S],[.34,10.6,S]];
const high2013 = [[-.33,664,S],[-.08,389,S],[-.31,241,S],[.09,228,S],[-.32,149,S],[.18,112,S],[.02,42.8,S],[.13,42.6,S],[.28,37.3,S],[-.25,29.3,S],[.04,29.3,S],[.11,29,S],[.32,28.5,S],[.05,18,S],[.06,17.9,S],[.22,17.6,S],[-.02,15.4,S],[.07,15.5,M],[.08,15.4,S],[.22,15.8,M],[-.34,14.1,S],[-.16,13.5,S],[-.19,12.4,S],[0,12.3,S],[.39,13.8,S],[.28,12.2,S],[-.27,12.1,S],[-.33,10.7,S],[-.27,10,M],[-.12,10.2,S],[-.09,10.3,S],[.07,10.7,S]];
const high2014 = [[.22,664,S],[.23,393,S],[.31,245,S],[.27,232,S],[.34,112,S],[-.25,150,S],[-.18,42.8,S],[-.17,42.5,S],[-.09,37.5,S],[-.31,33.3,S],[-.37,28.9,S],[.07,29,S],[.08,28.8,S],[-.26,17.6,S],[-.03,17.2,S],[.2,16.6,S],[.27,17.2,S],[-.2,15.5,M],[-.4,14.1,S],[-.2,13.7,S],[-.1,13.4,M],[.13,15.1,S],[.31,15.1,S],[.38,15.2,S],[-.23,12.8,S],[-.11,12.2,S],[.17,12.1,M],[.32,12,S],[.28,10.8,S],[.12,10.8,S],[.07,10.2,S],[.15,10.2,S],[-.36,10.1,M]];

const lowPanel = [low2003,low2004,low2005,low2006,low2007,low2008,low2009,low2010,low2011,low2012,low2013,low2014];
const highPanel = [high2003,high2004,high2005,high2006,high2007,high2008,high2009,high2010,high2011,high2012,high2013,high2014];

// ---------- SCALES ----------
const svg = d3.select("#chart");
const axisX0 = 80.4, axisX1 = 1800;
const topAxisY = 374, topAxisTop = 0;
const botAxisY = 1083, botAxisTop = 408;

const x = d3.scaleLinear().domain([2003, 2014]).range([209, 1670]);
const yTop = d3.scaleLog().domain([10, 1000]).range([353.5, 17]);
const yBot = d3.scaleLinear().domain([0, 10]).range([1036.7, 456.5]);
const rPop = d3.scaleLog().domain([1, 10, 100, 1000]).range([3.7, 4.6, 6.3, 12.5]);

const ptFill = "rgba(0,0,0,0.5)", ptStroke = "rgba(0,0,0,0.5)";

// ---------- DIVIDERS ----------
const gDiv = svg.append("g");
years.slice(0, -1).forEach(yr => {
  gDiv.append("line").attr("x1", x(yr + 0.5)).attr("x2", x(yr + 0.5))
    .attr("y1", yTop(1000)).attr("y2", yTop(9.66))
    .attr("stroke", "#000").attr("stroke-width", 1.6);
  gDiv.append("line").attr("x1", x(yr + 0.5)).attr("x2", x(yr + 0.5))
    .attr("y1", yBot(10.28)).attr("y2", yBot(-0.28))
    .attr("stroke", "#000").attr("stroke-width", 1.6);
});

// ---------- POINTS ----------
const gTop = svg.append("g");
highPanel.forEach((arr, i) => {
  gTop.selectAll(null).data(arr).enter().append("circle")
    .attr("cx", d => x(years[i] + d[0]))
    .attr("cy", d => yTop(d[1]))
    .attr("r", d => rPop(d[2]))
    .attr("fill", ptFill).attr("stroke", ptStroke).attr("stroke-width", 1);
});
const gBot = svg.append("g");
lowPanel.forEach((arr, i) => {
  gBot.selectAll(null).data(arr).enter().append("circle")
    .attr("cx", d => x(years[i] + d[0]))
    .attr("cy", d => yBot(d[1]))
    .attr("r", d => rPop(d[2]))
    .attr("fill", ptFill).attr("stroke", ptStroke).attr("stroke-width", 1);
});

// ---------- MEANS + CI ----------
const gMean = svg.append("g");
gMean.selectAll("line.ci").data(years).enter().append("line")
  .attr("x1", d => x(d)).attr("x2", d => x(d))
  .attr("y1", (d, i) => yBot(ciHigh[i])).attr("y2", (d, i) => yBot(ciLow[i]))
  .attr("stroke", "rgba(255,0,0,0.5)").attr("stroke-width", 4.6);
gMean.selectAll("circle").data(years).enter().append("circle")
  .attr("cx", d => x(d)).attr("cy", (d, i) => yBot(meanRatio[i]))
  .attr("r", 14.5)
  .attr("fill", "rgba(255,0,0,0.5)").attr("stroke", "rgba(255,0,0,0.45)").attr("stroke-width", 1);

// ---------- AXES ----------
function styleAxis(size) {
  return g => {
    g.select(".domain").remove();
    g.selectAll(".tick line").attr("stroke", "#333").attr("stroke-width", 1.2);
    g.selectAll(".tick text").attr("fill", "#4d4d4d").attr("font-size", size)
      .attr("font-family", '"Liberation Sans", Arial, sans-serif');
  };
}
svg.append("line").attr("x1", axisX0).attr("x2", axisX0).attr("y1", topAxisTop).attr("y2", topAxisY)
  .attr("stroke", "#000").attr("stroke-width", 1.6);
svg.append("line").attr("x1", axisX0).attr("x2", axisX1).attr("y1", topAxisY).attr("y2", topAxisY)
  .attr("stroke", "#000").attr("stroke-width", 1.6);
svg.append("line").attr("x1", axisX0).attr("x2", axisX0).attr("y1", botAxisTop).attr("y2", botAxisY)
  .attr("stroke", "#000").attr("stroke-width", 1.6);
svg.append("line").attr("x1", axisX0).attr("x2", axisX1).attr("y1", botAxisY).attr("y2", botAxisY)
  .attr("stroke", "#000").attr("stroke-width", 1.6);

svg.append("g").attr("transform", `translate(${axisX0},0)`)
  .call(d3.axisLeft(yTop).tickValues(topTicks).tickFormat(d3.format("d")).tickSize(5).tickPadding(4))
  .call(styleAxis(15.5));
svg.append("g").attr("transform", `translate(0,${topAxisY})`)
  .call(d3.axisBottom(x).tickValues(years).tickFormat("").tickSize(5))
  .call(styleAxis(15.5));
svg.append("g").attr("transform", `translate(${axisX0},0)`)
  .call(d3.axisLeft(yBot).tickValues(bottomTicks).tickFormat(d3.format(".1f")).tickSize(5).tickPadding(4))
  .call(styleAxis(17.5));
svg.append("g").attr("transform", `translate(0,${botAxisY})`)
  .call(d3.axisBottom(x).tickValues(years).tickFormat(d3.format("d")).tickSize(5).tickPadding(6))
  .call(styleAxis(17.5));

// titles
svg.append("text").attr("x", 940).attr("y", 1137).attr("text-anchor", "middle")
  .attr("font-size", 24).attr("fill", "#000").text("Year");
svg.append("text").attr("transform", "translate(23,746) rotate(-90)").attr("text-anchor", "middle")
  .attr("font-size", 23.5).attr("fill", "#000").text("Animal feces:Human feces ratio");

// ---------- LEGEND ----------
const gLeg = svg.append("g");
gLeg.append("text").attr("x", 520).attr("y", 1203).attr("font-size", 23.5).attr("fill", "#000").text("Human population");
const legX = [740, 885, 1042, 1206];
legendPops.forEach((p, i) => {
  gLeg.append("circle").attr("cx", legX[i]).attr("cy", 1195).attr("r", rPop(p))
    .attr("fill", ptFill).attr("stroke", ptStroke).attr("stroke-width", 1);
  gLeg.append("text").attr("x", legX[i] + 31).attr("y", 1201.5)
    .attr("font-size", 18.8).attr("fill", "#1a1a1a").text(legendLabels[i]);
});
</script>
</body></html>
